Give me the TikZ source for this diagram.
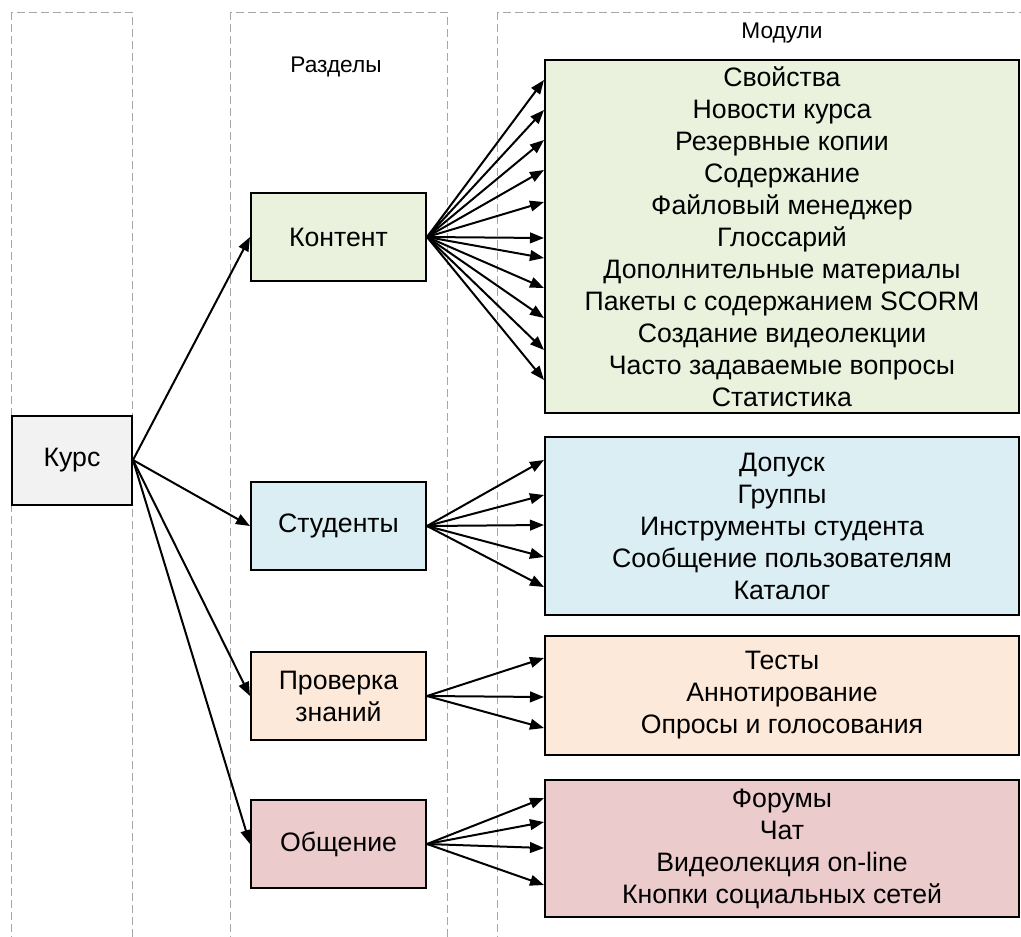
\documentclass[tikz,border=0pt]{standalone}
\usepackage{fontspec}
\setmainfont{Liberation Sans}
\usepackage{tikz}
\usetikzlibrary{arrows.meta, positioning, calc}
\definecolor{crsgray}{HTML}{F2F2F2}
\definecolor{cntgreen}{HTML}{EAF1DD}
\definecolor{stdblue}{HTML}{DAEEF3}
\definecolor{tstpeach}{HTML}{FDE9D9}
\definecolor{comrose}{HTML}{EBCBCB}

\begin{document}
\begin{tikzpicture}[
    x=0.75pt, y=-0.75pt,
    font=\fontsize{20}{24}\selectfont,
    column/.style={draw=gray!70, dash pattern=on 6pt off 3pt, line width=0.6pt},
    colhead/.style={font=\fontsize{17}{20}\selectfont},
    course/.style={rectangle, draw=black, fill=crsgray, line width=1.5pt, minimum width=90pt, minimum height=66.75pt},
    section/.style={rectangle, draw=black, line width=1.5pt, align=center, minimum width=131.25pt, minimum height=66pt},
    module/.style={rectangle, draw=black, line width=1.5pt, align=center, minimum width=355.5pt},
    arrow/.style={-{Triangle[length=10.5pt, width=8pt]}, line width=1.5pt}
]
\useasboundingbox (0,0) rectangle (1021,936);
\clip (0,0) rectangle (1021,936);

% columns
\draw[column] (11,12) rectangle (132,960);
\draw[column] (230,12) rectangle (447,960);
\draw[column] (497,12) rectangle (1080,960);
\node[colhead] (lblsec) at (336,67) {Разделы};
\node[colhead] (lblmod) at (782,33) {Модули};

% course and sections
\node[course] (kurs) at (72,460) {Курс};
\node[section, fill=cntgreen] (cont) at (338.5,237) {Контент};
\node[section, fill=stdblue] (stud) at (338.5,526) {Студенты};
\node[section, fill=tstpeach] (test) at (338.5,696) {Проверка\\знаний};
\node[section, fill=comrose] (comm) at (338.5,844) {Общение};

% modules
\node[module, fill=cntgreen, minimum height=264.75pt] (mcont) at (782,236.5) {Свойства\\Новости курса\\Резервные копии\\Содержание\\Файловый менеджер\\Глоссарий\\Дополнительные материалы\\Пакеты с содержанием SCORM\\Создание видеолекции\\Часто задаваемые вопросы\\Статистика};
\node[module, fill=stdblue, minimum height=133.5pt] (mstud) at (782,526) {Допуск\\Группы\\Инструменты студента\\Сообщение пользователям\\Каталог};
\node[module, fill=tstpeach, minimum height=89.25pt] (mtest) at (782,695.5) {Тесты\\Аннотирование\\Опросы и голосования};
\node[module, fill=comrose, minimum height=102.75pt] (mcomm) at (782,848.5) {Форумы\\Чат\\Видеолекция on-line\\Кнопки социальных сетей};

\draw[arrow] (kurs.east) -- (cont.west);
\draw[arrow] (kurs.east) -- (stud.west);
\draw[arrow] (kurs.east) -- (test.west);
\draw[arrow] (kurs.east) -- (comm.west);

\foreach \y in {80,110,140,170,202,238,258,288,318,350,380}
    \draw[arrow] (cont.east) -- (mcont.west |- 0,\y);
\foreach \y in {460,495,525,557,587}
    \draw[arrow] (stud.east) -- (mstud.west |- 0,\y);
\foreach \y in {658,697,728}
    \draw[arrow] (test.east) -- (mtest.west |- 0,\y);
\foreach \y in {798,822,848,885}
    \draw[arrow] (comm.east) -- (mcomm.west |- 0,\y);
\end{tikzpicture}
\end{document}
